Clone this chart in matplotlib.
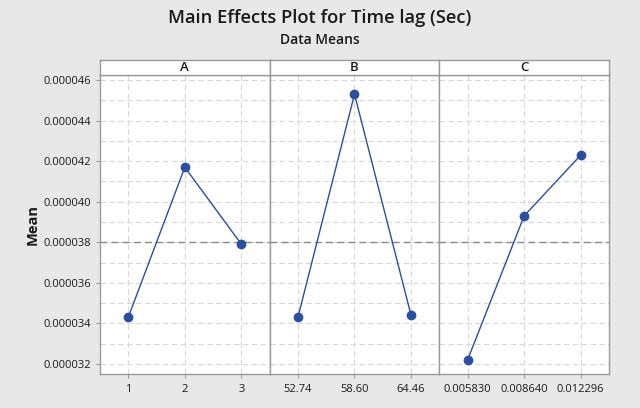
import matplotlib
matplotlib.use("Agg")
import matplotlib.pyplot as plt
from matplotlib.ticker import MultipleLocator, FuncFormatter

plt.rcParams['font.family'] = ['Open Sans', 'DejaVu Sans']

factors = ["A", "B", "C"]
levels = [["1", "2", "3"],
          ["52.74", "58.60", "64.46"],
          ["0.005830", "0.008640", "0.012296"]]
means = [[0.0000343, 0.0000417, 0.0000379],
         [0.0000343, 0.0000453, 0.0000344],
         [0.0000322, 0.0000393, 0.0000423]]
grand_mean = 0.0000380

bg = "#e8e8e8"
line_col = "#2b4f9e"
fig = plt.figure(figsize=(6.4, 4.08), dpi=100, facecolor=bg)

left_px, right_px = 100, 609
top_px, bot_px = 75, 374
strip_px = 15
W, H = 640, 408
pw = (right_px - left_px) / 3

fig.text(0.5, 1 - 18 / H, "Main Effects Plot for Time lag (Sec)", ha="center", va="center",
         fontsize=13.2, fontweight="semibold", color="#1a1a1a")
fig.text(0.5, 1 - 40 / H, "Data Means", ha="center", va="center",
         fontsize=10, fontweight="semibold", color="#1a1a1a")

axes = []
for i, f in enumerate(factors):
    x0 = (left_px + i * pw) / W
    ax = fig.add_axes([x0, 1 - bot_px / H, pw / W, (bot_px - top_px) / H])
    ax.set_facecolor("white")
    xs = list(range(1, len(levels[i]) + 1))
    ax.set_xlim(0.5, 3.5)
    ax.set_ylim(0.0000315, 0.00004625)
    ax.yaxis.set_major_locator(MultipleLocator(0.000002))
    ax.yaxis.set_minor_locator(MultipleLocator(0.000001))
    ax.grid(True, which="both", axis="y", color="#d8d8d8", linestyle=(0, (5, 3)), linewidth=0.8)
    ax.set_xticks(xs)
    ax.set_xticklabels(levels[i], fontsize=8)
    ax.grid(True, which="major", axis="x", color="#d8d8d8", linestyle=(0, (5, 3)), linewidth=0.8)
    ax.set_axisbelow(True)
    ax.axhline(grand_mean, color="#8a8a8a", linestyle=(0, (5, 3)), linewidth=1.0, zorder=2)
    ax.plot(xs, means[i], color=line_col, linewidth=1.0, marker="o", markersize=6, zorder=3)
    for s in ax.spines.values():
        s.set_color("#9a9a9a")
        s.set_linewidth(1.0)
    ax.tick_params(axis="x", length=3, color="#9a9a9a", labelcolor="#1a1a1a", pad=4)
    ax.tick_params(axis="y", which="minor", length=0)
    if i == 0:
        ax.yaxis.set_major_formatter(FuncFormatter(lambda v, p: f"{v:.6f}"))
        ax.tick_params(axis="y", which="major", length=3, color="#9a9a9a", labelsize=8, labelcolor="#1a1a1a")
        ax.set_ylabel("Mean", fontsize=10.5, fontweight="bold", color="#1a1a1a", labelpad=3)
    else:
        ax.tick_params(axis="y", which="major", length=0, labelleft=False)
    # strip
    sax = fig.add_axes([x0, 1 - top_px / H, pw / W, strip_px / H])
    sax.set_facecolor("white")
    sax.set_xticks([])
    sax.set_yticks([])
    for s in sax.spines.values():
        s.set_color("#9a9a9a")
        s.set_linewidth(1.0)
    sax.text(0.5, 0.5, f, ha="center", va="center", fontsize=9.5, fontweight="semibold",
             color="#1a1a1a", transform=sax.transAxes)
    axes.append(ax)

fig.savefig("out.png", dpi=100, facecolor=bg)
